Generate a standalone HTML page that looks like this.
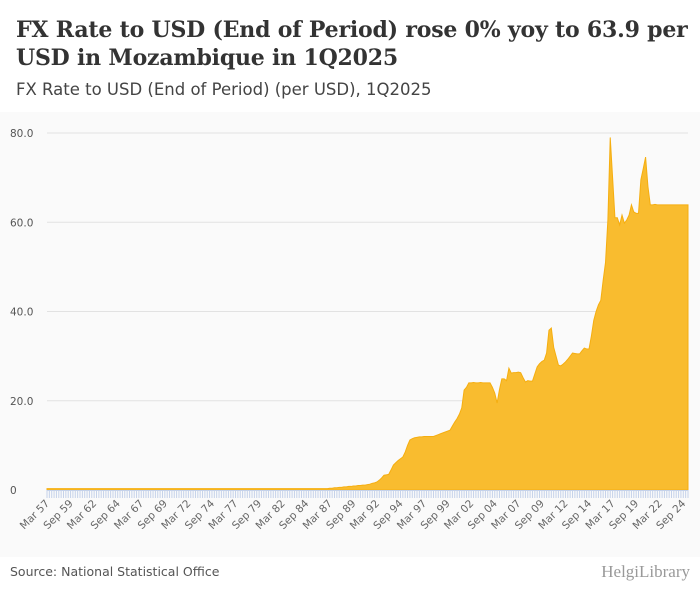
<!DOCTYPE html>
<html><head><meta charset="utf-8"><style>
body{margin:0;width:700px;height:596px;background:#fff;font-family:"Liberation Sans",sans-serif;overflow:hidden;position:relative}
.t{position:absolute;left:16px;top:16px;font-family:"DejaVu Serif",serif;font-weight:bold;font-size:22px;line-height:28px;color:#333;width:684px;letter-spacing:-0.2px}
.s{position:absolute;left:16px;top:80px;font-family:"DejaVu Sans",sans-serif;font-size:16.5px;color:#444}
.src{position:absolute;left:10px;top:564px;font-family:"DejaVu Sans",sans-serif;font-size:12.5px;color:#555}
.logo{position:absolute;right:10px;top:562px;font-size:17px;color:#999;font-family:"Liberation Serif",serif}
</style></head><body>
<div class="t">FX Rate to USD (End of Period) rose 0% yoy to 63.9 per USD in Mozambique in 1Q2025</div>
<div class="s">FX Rate to USD (End of Period) (per USD), 1Q2025</div>
<svg id="c" width="700" height="445" style="position:absolute;left:0;top:112px"></svg>
<div class="src">Source: National Statistical Office</div>
<div class="logo">HelgiLibrary</div>
<script>
const values=[
0.3,0.3,0.3,0.3,0.3,0.3,0.3,0.3,0.3,0.3,0.3,0.3,0.3,0.3,0.3,0.3,0.3,0.3,0.3,0.3,
0.3,0.3,0.3,0.3,0.3,0.3,0.3,0.3,0.3,0.3,0.3,0.3,0.3,0.3,0.3,0.3,0.3,0.3,0.3,0.3,
0.3,0.3,0.3,0.3,0.3,0.3,0.3,0.3,0.3,0.3,0.3,0.3,0.3,0.3,0.3,0.3,0.3,0.3,0.3,0.3,
0.3,0.3,0.3,0.3,0.3,0.3,0.3,0.3,0.3,0.3,0.3,0.3,0.3,0.3,0.3,0.3,0.3,0.3,0.3,0.3,
0.3,0.3,0.3,0.3,0.3,0.3,0.3,0.3,0.3,0.3,0.3,0.3,0.3,0.3,0.3,0.3,0.3,0.3,0.3,0.3,
0.3,0.3,0.3,0.3,0.3,0.3,0.3,0.3,0.3,0.3,0.3,0.3,0.3,0.3,0.3,0.3,0.3,0.3,0.3,0.3,
0.4,0.4,0.5,0.5,0.6,0.6,0.7,0.7,0.8,0.8,0.9,0.9,1.0,1.0,1.1,1.1,
1.2,1.3,1.5,1.6,1.8,2.2,2.7,3.3,3.4,3.5,4.5,5.6,6.1,6.6,7.0,
7.4,8.5,10.0,11.2,11.5,11.7,11.8,11.9,11.9,12.0,12.0,12.0,12.0,12.0,12.2,12.4,12.6,12.8,13.0,13.2,13.4,14.3,15.2,16.0,17.0,
18.4,22.4,23.0,24.0,24.0,24.1,24.0,24.0,24.1,24.0,24.0,24.0,24.0,23.0,21.7,19.5,22.5,24.9,24.9,24.5,27.3,26.2,26.3,26.3,
26.4,26.3,25.2,24.2,24.5,24.4,24.4,26.0,27.6,28.3,28.8,29.1,30.7,35.8,36.3,32.0,30.0,28.0,27.8,28.2,28.7,29.3,30.0,30.7,30.6,30.5,30.5,31.2,31.8,31.6,
31.6,34.5,38.0,40.0,41.5,42.5,47.0,51.0,60.5,79.0,70.0,61.0,61.0,59.4,61.6,59.8,60.5,61.6,63.9,62.3,62.0,62.0,69.5,72.0,74.6,68.0,63.9,63.9,64.0,
63.9,63.9,63.9,63.9,63.9,63.9,63.9,63.9,63.9,63.9,63.9,63.9,63.9,63.9];
const yTicks=[0,20,40,60,80];
const yTickLabels=["0","20.0","40.0","60.0","80.0"];
const startYear=1957;
const months=["Mar","Jun","Sep","Dec"];
const categories=values.map((v,i)=>months[i%4]+" "+String((startYear+Math.floor(i/4))%100).padStart(2,"0"));
const NS="http://www.w3.org/2000/svg";
const svg=document.getElementById("c");
const X0=47,X1=688,Y0=378,Y80=21;
const x=i=>X0+(X1-X0)*i/(values.length-1);
const y=v=>Y0-(Y0-Y80)*v/80;
function mk(t,a){const e=document.createElementNS(NS,t);for(const k in a)e.setAttribute(k,a[k]);svg.appendChild(e);return e;}
const bg=mk("rect",{x:0,y:0,width:700,height:445,fill:"#fafafa"});


yTicks.forEach((t,k)=>{
 if(t>0){const g=mk("line",{x1:47,x2:688,y1:y(t),y2:y(t),stroke:"#e2e2e2","stroke-width":1});
 
 }
 const l=mk("text",{x:10,y:y(t)+4,"font-size":"10.5","fill":"#555","font-family":"DejaVu Sans, sans-serif"});l.textContent=yTickLabels[k];
 
 
});
let d="M"+x(0)+","+y(0);
values.forEach((v,i)=>d+=" L"+x(i).toFixed(2)+","+y(v).toFixed(2));
d+=" L"+x(values.length-1)+","+y(0)+" Z";
const area=mk("path",{d:d,fill:"#f9bc2f",stroke:"#f5ae10","stroke-width":1});


const ax=mk("line",{x1:47,x2:688,y1:Y0+0.5,y2:Y0+0.5,stroke:"#c5d2ea","stroke-width":1});


values.forEach((v,i)=>{
 const tk=mk("line",{x1:x(i),x2:x(i),y1:Y0,y2:Y0+8,stroke:"#c5d2ea","stroke-width":1});
 
 
 if(i%10===0){
  const l=mk("text",{x:x(i)+3,y:Y0+14,"font-size":"10.5","fill":"#666","text-anchor":"end","font-family":"DejaVu Sans, sans-serif",transform:`rotate(-45 ${x(i)+3} ${Y0+14})`});
  l.textContent=categories[i];
  
  
 }
});
</script>
</body></html>
